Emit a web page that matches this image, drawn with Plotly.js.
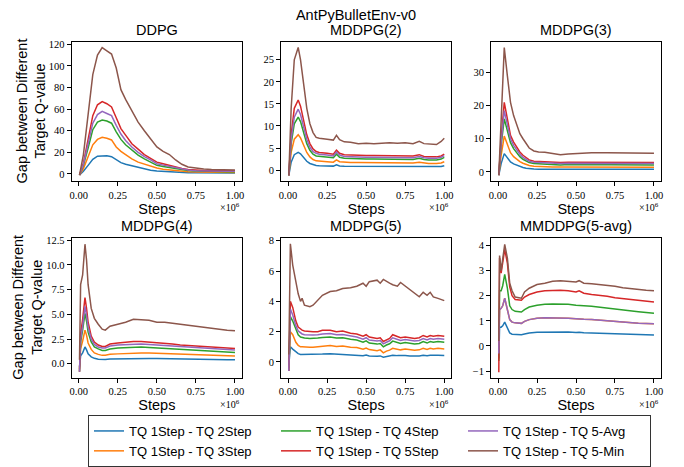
<!DOCTYPE html>
<html><head><meta charset="utf-8">
<script src="https://cdn.plot.ly/plotly-3.0.1.min.js"></script>
<style>html,body{margin:0;padding:0;background:#fff}#chart{width:684px;height:467px}</style>
</head><body><div id="chart"></div>
<script>
// ---------------- DATA ----------------
const figureTitle = "AntPyBulletEnv-v0";
const panelTitles = ["DDPG", "MDDPG(2)", "MDDPG(3)", "MDDPG(4)", "MDDPG(5)", "MMDDPG(5-avg)"];
const seriesNames = ["TQ 1Step - TQ 2Step", "TQ 1Step - TQ 3Step", "TQ 1Step - TQ 4Step",
                     "TQ 1Step - TQ 5Step", "TQ 1Step - TQ 5-Avg", "TQ 1Step - TQ 5-Min"];
const xTickVals = [0, 0.25, 0.5, 0.75, 1.0];
const xAxisLabel = "Steps";
const yAxisLabel = "Gap between Different<br>Target Q-value";
const xScaleLabel = "×10<sup>6</sup>";

// DDPG
const ddpgSteps = [0.005,0.03,0.06,0.09,0.12,0.15,0.18,0.21,0.24,0.27,0.30,0.34,0.38,0.42,0.46,0.50,0.54,0.58,0.62,0.66,0.70,0.75,0.80,0.85,0.90,0.95,1.0];
const ddpg2Step = [-1,2.5,8,13.5,16.5,17,16.8,16,13,10.5,9,7.5,5.8,4.5,3.5,2.8,2.4,2.0,1.7,1.4,1.2,1.1,1.0,1.0,0.9,0.9,0.9];
const ddpg3Step = [-1,5,16,27,32,34,33,31.5,25,21,18,14,11,9,7,5.5,4.5,3.8,3.1,2.5,2.1,1.8,1.6,1.5,1.4,1.4,1.4];
const ddpg4Step = [-1,8,24,41,48,50,49,47,39,32,27,22,17.5,14,11,8,7,6,4.8,3.8,3.2,2.7,2.4,2.2,2.1,2.1,2.0];
const ddpg5Step = [-1,10,32,54,64,67,65,62,52,42,36,28,23,18,14.5,11,9.5,8,6.5,5,4.2,3.6,3.3,3.1,3.0,3.0,3.0];
const ddpg5Avg  = [-1,9,28,47,55,58,56,54,45,37,31,25,20,16,13,9.5,8.2,7,5.5,4.3,3.6,3.1,2.8,2.6,2.5,2.5,2.5];
const ddpg5Min  = [-1,18,55,92,110,117,114,111,98,78,69,58,48,40,32,25,21,18,13,9,6.5,5.2,4.6,4.2,3.9,3.7,3.6];

// MDDPG(2)
const m2Steps = [0.005,0.02,0.04,0.065,0.08,0.1,0.12,0.14,0.16,0.18,0.2,0.25,0.29,0.31,0.33,0.36,0.4,0.45,0.5,0.55,0.6,0.65,0.7,0.75,0.8,0.84,0.87,0.9,0.95,0.98,1.0];
const m2_2Step = [-1.2,1.8,3.5,4.0,3.7,2.8,2.0,1.5,1.2,1.05,1.0,0.95,0.9,1.2,0.95,0.85,0.85,0.85,0.85,0.85,0.85,0.85,0.85,0.85,0.8,0.9,0.8,0.75,0.75,0.8,1.0];
const m2_3Step = [-1.2,4,7,8,7.3,5.5,4,3,2.4,2.1,2.0,1.9,1.8,2.3,1.9,1.8,1.7,1.7,1.7,1.7,1.7,1.7,1.7,1.7,1.6,1.8,1.6,1.5,1.5,1.6,1.9];
const m2_4Step = [-1.2,6,10.5,12,11,8.2,6,4.5,3.6,3.2,3.1,2.9,2.8,3.6,2.9,2.7,2.6,2.5,2.5,2.5,2.5,2.5,2.5,2.5,2.4,2.7,2.4,2.3,2.3,2.5,2.9];
const m2_5Step = [-1.2,8,14,15.9,14.5,11,8,6,4.8,4.2,4.0,3.8,3.6,4.5,3.8,3.5,3.4,3.3,3.3,3.3,3.3,3.3,3.2,3.3,3.2,3.5,3.1,3.0,3.0,3.2,3.6];
const m2_5Avg  = [-1.2,7,12,13.8,12.6,9.5,7,5.2,4.2,3.8,3.6,3.4,3.2,4.1,3.4,3.1,3.0,2.9,2.9,2.9,2.9,2.9,2.9,2.9,2.8,3.1,2.8,2.7,2.7,2.9,3.3];
const m2_5Min  = [-1.2,14,25,27.8,25,19,14,10.5,8.5,7.4,7.2,7.0,6.8,7.9,6.9,6.4,6.3,6.0,6.1,6.0,6.1,6.2,6.1,6.2,6.0,6.5,6.0,5.9,5.8,6.5,7.2];

// MDDPG(3)
const m3Steps = [0.005,0.02,0.04,0.06,0.08,0.1,0.12,0.14,0.16,0.18,0.2,0.23,0.26,0.3,0.35,0.4,0.45,0.5,0.6,0.7,0.8,0.9,1.0];
const m3_2Step = [-1,2.5,5.5,4.2,3.0,2.4,2.0,1.6,1.3,1.1,0.95,0.85,0.8,0.8,0.8,0.8,0.8,0.8,0.8,0.8,0.8,0.75,0.75];
const m3_3Step = [-1,5,10.8,8,5.8,4.6,3.8,3.1,2.6,2.2,1.9,1.7,1.6,1.6,1.5,1.5,1.5,1.5,1.5,1.5,1.5,1.4,1.4];
const m3_4Step = [-1,8,16,12,8.8,7,5.7,4.6,3.8,3.3,2.8,2.5,2.4,2.3,2.2,2.1,2.2,2.2,2.2,2.2,2.2,2.1,2.1];
const m3_5Step = [-1,10,21,15.5,11,9,7.5,6,5,4.2,3.6,3.2,3.1,3.0,2.9,2.8,2.9,2.9,2.9,2.9,2.9,2.8,2.8];
const m3_5Avg  = [-1,9,18.5,14,10,8,6.5,5.3,4.4,3.8,3.2,2.9,2.8,2.7,2.6,2.5,2.6,2.6,2.6,2.6,2.6,2.5,2.5];
const m3_5Min  = [-1,18,37.5,29,21,17,14,11.5,10,8.5,7.2,6.3,6.0,5.9,5.5,5.2,5.4,5.6,5.8,5.8,5.8,5.7,5.6];

// MDDPG(4)
const m4Steps = [0.005,0.012,0.025,0.04,0.05,0.06,0.08,0.1,0.125,0.15,0.17,0.2,0.25,0.3,0.35,0.4,0.45,0.5,0.55,0.6,0.65,0.7,0.75,0.8,0.85,0.9,0.95,1.0];
const m4_2Step = [-0.3,0.8,1.1,1.7,1.4,1.0,0.7,0.55,0.45,0.42,0.42,0.48,0.5,0.52,0.55,0.55,0.53,0.52,0.5,0.5,0.48,0.46,0.45,0.43,0.42,0.41,0.4,0.4];
const m4_3Step = [-0.5,1.5,2.3,3.4,2.9,2.1,1.45,1.1,0.95,0.85,0.85,0.95,1.0,1.05,1.1,1.1,1.08,1.05,1.0,1.0,0.95,0.9,0.9,0.85,0.85,0.8,0.8,0.78];
const m4_4Step = [-0.8,2.2,3.4,5.1,4.3,3.2,2.2,1.7,1.5,1.35,1.35,1.5,1.6,1.65,1.7,1.7,1.65,1.6,1.55,1.5,1.45,1.4,1.35,1.3,1.25,1.2,1.2,1.15];
const m4_5Step = [-0.8,3.0,4.5,6.7,5.6,4.2,2.8,2.2,1.9,1.75,1.75,2.0,2.1,2.2,2.25,2.25,2.2,2.1,2.05,2.0,1.9,1.85,1.8,1.7,1.65,1.6,1.55,1.55];
const m4_5Avg  = [-0.8,2.5,3.8,5.8,4.9,3.7,2.5,1.95,1.7,1.6,1.6,1.8,1.9,1.95,2.0,2.0,1.95,1.9,1.85,1.8,1.75,1.7,1.6,1.55,1.5,1.45,1.4,1.4];
const m4_5Min  = [0.4,8.0,9.0,12.1,10.5,8.0,5.6,4.6,4.0,3.5,3.4,3.8,4.0,4.2,4.5,4.45,4.4,4.2,4.2,4.1,4.0,3.9,3.75,3.65,3.55,3.45,3.4,3.35];

// MDDPG(5)
const m5Steps = [0.005,0.015,0.03,0.05,0.065,0.08,0.09,0.105,0.14,0.16,0.19,0.22,0.27,0.31,0.35,0.4,0.44,0.48,0.5,0.52,0.57,0.59,0.61,0.63,0.65,0.67,0.7,0.72,0.75,0.78,0.81,0.84,0.865,0.89,0.91,0.93,0.96,1.0];
const m5_2Step = [-0.2,1.0,0.85,0.65,0.55,0.5,0.5,0.5,0.48,0.5,0.5,0.52,0.54,0.52,0.52,0.48,0.47,0.42,0.46,0.4,0.38,0.4,0.32,0.36,0.38,0.45,0.42,0.4,0.42,0.4,0.38,0.4,0.45,0.42,0.45,0.43,0.45,0.43];
const m5_3Step = [-0.4,2.0,1.8,1.3,1.1,1.0,1.0,0.98,0.97,0.98,1.0,1.05,1.08,1.03,1.05,0.98,0.95,0.85,0.92,0.82,0.75,0.8,0.6,0.72,0.78,0.9,0.85,0.8,0.85,0.8,0.78,0.8,0.9,0.83,0.9,0.86,0.9,0.86];
const m5_4Step = [-0.6,3.0,2.7,2.1,1.8,1.65,1.6,1.58,1.55,1.55,1.58,1.62,1.65,1.58,1.6,1.5,1.45,1.3,1.4,1.25,1.18,1.22,1.0,1.12,1.2,1.38,1.3,1.22,1.28,1.22,1.18,1.22,1.35,1.25,1.35,1.3,1.35,1.3];
const m5_5Step = [-0.6,4.0,3.6,2.7,2.3,2.15,2.1,2.05,2.0,2.0,2.0,2.1,2.1,2.0,2.05,1.9,1.85,1.7,1.8,1.65,1.55,1.6,1.35,1.45,1.55,1.8,1.7,1.6,1.65,1.6,1.55,1.6,1.75,1.65,1.75,1.7,1.75,1.7];
const m5_5Avg  = [-0.6,3.5,3.1,2.4,2.05,1.9,1.85,1.8,1.78,1.78,1.8,1.85,1.88,1.8,1.82,1.7,1.65,1.5,1.6,1.45,1.38,1.42,1.2,1.3,1.4,1.6,1.5,1.42,1.48,1.42,1.38,1.42,1.55,1.45,1.55,1.5,1.55,1.5];
const m5_5Min  = [0.5,7.8,6.4,5.2,4.5,4.0,4.2,3.75,3.65,3.75,4.1,4.4,4.65,4.7,4.85,4.9,5.0,5.2,5.0,5.3,5.4,5.2,5.45,5.3,5.2,5.1,5.0,5.25,5.0,4.8,4.5,4.3,4.6,4.4,4.6,4.3,4.2,4.05];

// MMDDPG(5-avg)
const mmSteps = [0.005,0.01,0.02,0.03,0.043,0.06,0.075,0.09,0.11,0.15,0.17,0.2,0.25,0.3,0.35,0.4,0.45,0.5,0.52,0.55,0.6,0.65,0.7,0.75,0.8,0.85,0.9,0.95,1.0];
const mm2Step = [-0.5,0.75,0.75,0.8,0.95,0.75,0.52,0.47,0.46,0.45,0.48,0.52,0.55,0.56,0.57,0.57,0.56,0.54,0.55,0.53,0.52,0.51,0.5,0.49,0.48,0.46,0.45,0.44,0.44];
const mm3Step = [-0.3,1.45,1.5,1.6,1.9,1.5,1.05,0.95,0.92,0.9,0.98,1.05,1.1,1.12,1.12,1.12,1.1,1.08,1.08,1.06,1.05,1.02,1.0,0.97,0.95,0.93,0.9,0.89,0.88];
const mm4Step = [-0.6,2.2,2.2,2.4,2.85,2.3,1.6,1.45,1.38,1.35,1.45,1.55,1.62,1.66,1.67,1.68,1.66,1.62,1.62,1.6,1.58,1.54,1.5,1.46,1.42,1.39,1.36,1.33,1.3];
const mm5Step = [-1.05,3.5,2.9,3.3,3.85,3.3,2.35,2.0,1.85,1.82,1.95,2.05,2.15,2.2,2.22,2.22,2.2,2.15,2.2,2.1,2.05,2.02,1.98,1.92,1.88,1.84,1.8,1.77,1.75];
const mm5Avg  = [-0.3,1.45,1.5,1.6,1.9,1.5,1.05,0.95,0.92,0.9,0.98,1.05,1.1,1.12,1.12,1.12,1.1,1.08,1.08,1.06,1.05,1.02,1.0,0.97,0.95,0.93,0.9,0.89,0.88];
const mm5Min  = [0.2,3.6,3.0,3.5,4.05,3.5,2.5,2.2,1.95,1.9,2.15,2.3,2.45,2.5,2.58,2.6,2.58,2.55,2.6,2.5,2.48,2.45,2.42,2.38,2.32,2.28,2.25,2.22,2.2];

// ---------------- STYLE / LAYOUT ----------------
const W = 684, H = 467;
const colors = ["#1f77b4", "#ff7f0e", "#2ca02c", "#d62728", "#9467bd", "#8c564b"];
const legendRank = [1, 4, 2, 5, 3, 6];
const sansFont = "Liberation Sans, Arial, sans-serif";
const serifFont = "Liberation Serif, Times New Roman, serif";

const panels = [
  {x: ddpgSteps, ys: [ddpg2Step, ddpg3Step, ddpg4Step, ddpg5Step, ddpg5Avg, ddpg5Min], yr: [-6.6, 122.4], dt: 20, fmt: "d"},
  {x: m2Steps, ys: [m2_2Step, m2_3Step, m2_4Step, m2_5Step, m2_5Avg, m2_5Min], yr: [-2.5, 29.1], dt: 5, fmt: "d"},
  {x: m3Steps, ys: [m3_2Step, m3_3Step, m3_4Step, m3_5Step, m3_5Avg, m3_5Min], yr: [-2.8, 39.3], dt: 10, fmt: "d"},
  {x: m4Steps, ys: [m4_2Step, m4_3Step, m4_4Step, m4_5Step, m4_5Avg, m4_5Min], yr: [-1.4, 12.75], dt: 2.5, fmt: ".1f"},
  {x: m5Steps, ys: [m5_2Step, m5_3Step, m5_4Step, m5_5Step, m5_5Avg, m5_5Min], yr: [-1.03, 8.2], dt: 2, fmt: "d"},
  {x: mmSteps, ys: [mm2Step, mm3Step, mm4Step, mm5Step, mm5Avg, mm5Min], yr: [-1.26, 4.31], dt: 1, fmt: "d"}
];

const colPx = [[71.7, 242], [281, 451.3], [491, 661]];
const rowPx = [[42.7, 185.5], [243.5, 386.7]];
const yLabelPx = [31, 28];
const colDom = colPx.map(c => [c[0] / W, c[1] / W]);
const rowDom = rowPx.map(r => [1 - r[1] / H, 1 - r[0] / H]);

const traces = [];
const annotations = [];
const layout = {
  width: W, height: H,
  margin: {l: 0, r: 0, t: 0, b: 0},
  paper_bgcolor: "#fff", plot_bgcolor: "#fff",
  font: {family: sansFont, color: "#000", size: 13},
  title: {text: figureTitle, x: 356 / W, xanchor: "center", y: 1 - 15 / H, yanchor: "middle",
          font: {family: sansFont, size: 14.5, color: "#000"}},
  showlegend: true,
  legend: {orientation: "h", x: 88 / W, xanchor: "left", y: 1 - 425 / H, yanchor: "top",
           entrywidth: 142, itemwidth: 30, traceorder: "normal",
           font: {family: sansFont, size: 13, color: "#000"},
           bordercolor: "#333", borderwidth: 1, bgcolor: "#fff"},
  annotations: annotations
};

panels.forEach((p, i) => {
  const n = i + 1;
  const suf = n === 1 ? "" : String(n);
  const r = Math.floor(i / 3), c = i % 3;
  p.ys.forEach((y, k) => {
    traces.push({
      type: "scatter", mode: "lines", x: p.x, y: y,
      xaxis: "x" + suf, yaxis: "y" + suf,
      name: seriesNames[k], legendrank: legendRank[k],
      showlegend: i === 0,
      line: {color: colors[k], width: 1.5},
      hoverinfo: "skip"
    });
  });
  layout["xaxis" + suf] = {
    domain: colDom[c], anchor: "y" + suf, range: [-0.045, 1.045],
    tickmode: "array", tickvals: xTickVals, tickformat: ".2f",
    ticks: "outside", ticklen: 4, tickwidth: 1, tickcolor: "#000",
    showline: true, linecolor: "#000", linewidth: 1, mirror: true,
    showgrid: false, zeroline: false,
    tickfont: {family: serifFont, size: 10.5, color: "#000"},
    title: {text: xAxisLabel, standoff: 3, font: {family: sansFont, size: 14.5, color: "#000"}},
    automargin: false
  };
  layout["yaxis" + suf] = {
    domain: rowDom[r], anchor: "x" + suf, range: p.yr,
    tickmode: "linear", tick0: 0, dtick: p.dt, tickformat: p.fmt,
    ticks: "outside", ticklen: 4, tickwidth: 1, tickcolor: "#000",
    showline: true, linecolor: "#000", linewidth: 1, mirror: true,
    showgrid: false, zeroline: false,
    tickfont: {family: serifFont, size: 10.5, color: "#000"},
    automargin: false
  };
  annotations.push({
    text: panelTitles[i], xref: "paper", yref: "paper",
    x: (colDom[c][0] + colDom[c][1]) / 2, xanchor: "center",
    y: rowDom[r][1] + 2 / H, yanchor: "bottom", showarrow: false,
    font: {family: sansFont, size: 14.5, color: "#000"}
  });
  annotations.push({
    text: xScaleLabel, xref: "paper", yref: "paper",
    x: colDom[c][1], xanchor: "right",
    y: rowDom[r][0] - 27 / H, yanchor: "middle", showarrow: false,
    font: {family: serifFont, size: 10, color: "#000"}
  });
  if (c === 0) {
    annotations.push({
      text: yAxisLabel, xref: "paper", yref: "paper", textangle: -90,
      x: yLabelPx[r] / W, xanchor: "center",
      y: (rowDom[r][0] + rowDom[r][1]) / 2, yanchor: "middle", showarrow: false,
      font: {family: sansFont, size: 14.5, color: "#000"}
    });
  }
});

Plotly.newPlot("chart", traces, layout, {displayModeBar: false, staticPlot: true});
</script>
</body></html>
